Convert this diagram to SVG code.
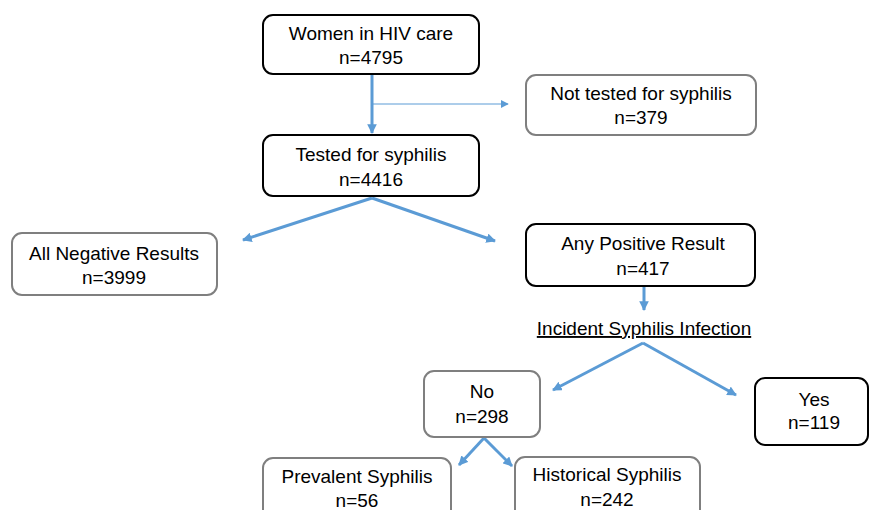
<svg xmlns="http://www.w3.org/2000/svg" width="869" height="510" viewBox="0 0 869 510">
<defs>
<style>
.t{font-family:"Liberation Sans",Arial,sans-serif;font-size:19px;fill:#000;text-anchor:middle}
.bk{fill:#fff;stroke:#000;stroke-width:2}
.gy{fill:#fff;stroke:#7f7f7f;stroke-width:2}
.c{stroke:#5b9bd5;stroke-width:3;fill:none}
.cn{stroke:#5b9bd5;stroke-width:1;fill:none}
</style>
<marker id="ah" viewBox="0 0 10 10" refX="9" refY="5" markerWidth="3.2" markerHeight="3.2" orient="auto" markerUnits="strokeWidth"><path d="M0,0L10,5L0,10z" fill="#5b9bd5"/></marker>
<marker id="ahs" viewBox="0 0 10 10" refX="9" refY="5" markerWidth="8" markerHeight="8" orient="auto" markerUnits="strokeWidth"><path d="M0,0L10,5L0,10z" fill="#5b9bd5"/></marker>
</defs>
<rect width="869" height="510" fill="#fff"/>
<g id="connectors">
<line class="c" x1="372" y1="75" x2="372" y2="133" marker-end="url(#ah)"/>
<line class="cn" x1="372" y1="104" x2="508" y2="104" marker-end="url(#ahs)"/>
<line class="c" x1="372" y1="198" x2="243" y2="240" marker-end="url(#ah)"/>
<line class="c" x1="372" y1="198" x2="495" y2="241" marker-end="url(#ah)"/>
<line class="c" x1="644" y1="287" x2="644" y2="310" marker-end="url(#ah)"/>
<line class="c" x1="643" y1="343" x2="553" y2="390" marker-end="url(#ah)"/>
<line class="c" x1="643" y1="343" x2="736" y2="395" marker-end="url(#ah)"/>
<line class="c" x1="484" y1="438" x2="459" y2="465" marker-end="url(#ah)"/>
<line class="c" x1="484" y1="438" x2="512" y2="466" marker-end="url(#ah)"/>
</g>
<g id="women">
<rect class="bk" x="263" y="15" width="216" height="59" rx="10"/>
<text class="t" x="371" y="40">Women in HIV care</text>
<text class="t" x="371" y="64">n=4795</text>
</g>
<g id="nottested">
<rect class="gy" x="526" y="75" width="230" height="60" rx="10"/>
<text class="t" x="641" y="100">Not tested for syphilis</text>
<text class="t" x="641" y="124">n=379</text>
</g>
<g id="tested">
<rect class="bk" x="263" y="135" width="216" height="61" rx="10"/>
<text class="t" x="371" y="161">Tested for syphilis</text>
<text class="t" x="371" y="186">n=4416</text>
</g>
<g id="negative">
<rect class="gy" x="12" y="233" width="205" height="62" rx="10"/>
<text class="t" x="114" y="260">All Negative Results</text>
<text class="t" x="114" y="284">n=3999</text>
</g>
<g id="positive">
<rect class="bk" x="526" y="224" width="229" height="62" rx="10"/>
<text class="t" x="643" y="250">Any Positive Result</text>
<text class="t" x="643" y="275">n=417</text>
</g>
<g id="incident">
<text class="t" x="644" y="335" text-decoration="underline">Incident Syphilis Infection</text>
</g>
<g id="no">
<rect class="gy" x="424" y="371" width="116" height="66" rx="10"/>
<text class="t" x="482" y="398">No</text>
<text class="t" x="482" y="423">n=298</text>
</g>
<g id="yes">
<rect class="bk" x="755" y="378" width="113" height="67" rx="10"/>
<text class="t" x="814" y="406">Yes</text>
<text class="t" x="814" y="429">n=119</text>
</g>
<g id="prevalent">
<rect class="gy" x="263" y="458" width="188" height="62" rx="10"/>
<text class="t" x="357" y="483">Prevalent Syphilis</text>
<text class="t" x="357" y="507">n=56</text>
</g>
<g id="historical">
<rect class="gy" x="515" y="457" width="185" height="63" rx="10"/>
<text class="t" x="607" y="481">Historical Syphilis</text>
<text class="t" x="607" y="506">n=242</text>
</g>
</svg>
